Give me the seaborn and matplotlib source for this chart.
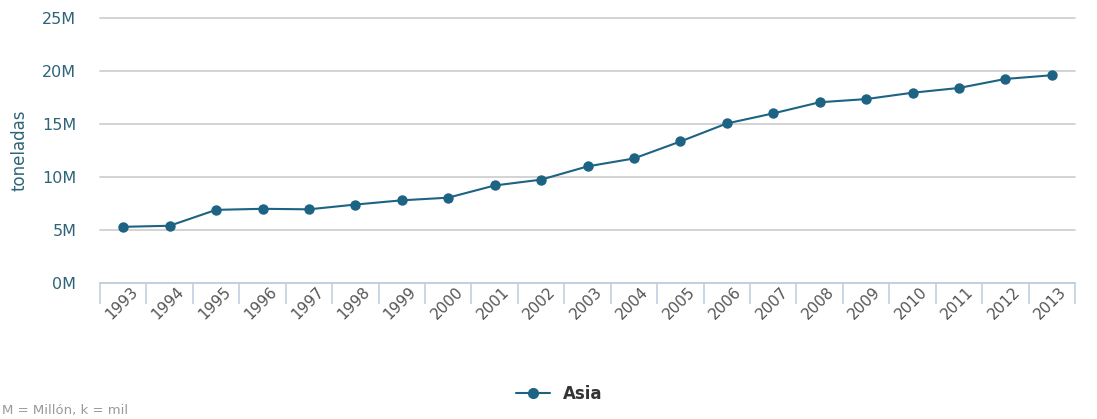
import matplotlib
matplotlib.use("Agg")
import matplotlib.pyplot as plt
import matplotlib.transforms as mtransforms
import seaborn as sns
import pandas as pd
import numpy as np
from matplotlib.ticker import FuncFormatter, FixedLocator
from matplotlib.lines import Line2D

years = list(range(1993, 2014))
asia = [5.3, 5.4, 6.9, 7.0, 6.95, 7.4, 7.8, 8.05, 9.2, 9.75, 11.0, 11.75,
        13.35, 15.05, 16.0, 17.05, 17.35, 17.95, 18.4, 19.25, 19.6]  # millions of tonnes
series_name = "Asia"
y_ticks = [0, 5, 10, 15, 20, 25]

sns.set_theme(style="white")
plt.rcParams['font.family'] = ['DejaVu Sans']

LINE = "#1d6384"
TXT = "#2f6478"

df = pd.DataFrame({"year": years, "value": asia, "serie": series_name})

fig = plt.figure(figsize=(10.97, 4.19), dpi=100)
ax = fig.add_axes([100/1097, 1-283/419, 975/1097, 265/419])

sns.lineplot(data=df, x="year", y="value", hue="serie", palette=[LINE], marker="o",
             markersize=7.5, markeredgewidth=0, linewidth=1.5, ax=ax, legend=False)

ax.set_xlim(years[0]-0.5, years[-1]+0.5)
ax.set_ylim(0, 25)
ax.yaxis.set_major_locator(FixedLocator(y_ticks))
ax.yaxis.set_major_formatter(FuncFormatter(lambda v, p: f"{int(v)}M"))
ax.grid(axis="y", color="#cccccc", linewidth=1.2)
ax.grid(axis="x", visible=False)
for gl in ax.get_ygridlines():
    gl.set_clip_on(False)
for s in ["top", "right", "left"]:
    ax.spines[s].set_visible(False)
ax.spines["bottom"].set_color("#c0d0e0")
ax.spines["bottom"].set_linewidth(1.2)
ax.spines["bottom"].set_zorder(3)
ax.tick_params(axis="y", length=0, labelsize=11.5, labelcolor=TXT, pad=17)

ax.set_xticks(years)
ax.set_xticklabels([str(y) for y in years], rotation=45, ha="right", rotation_mode="anchor")
ax.tick_params(axis="x", which="major", length=0, labelsize=11, labelcolor="#555555", pad=1)
offset = mtransforms.ScaledTranslation(7/100, 0, fig.dpi_scale_trans)
for lbl in ax.get_xticklabels():
    lbl.set_transform(lbl.get_transform() + offset)
ax.set_xticks([y - 0.5 for y in years] + [years[-1] + 0.5], minor=True)
ax.tick_params(axis="x", which="minor", length=15, color="#c0d0e0", width=1.2, bottom=True)

ax.set_xlabel("")
ax.set_ylabel("toneladas", color=TXT, fontsize=12, labelpad=10)

h = Line2D([0], [0], color=LINE, marker="o", markersize=7, linewidth=1.5)
fig.legend([h], [series_name], loc="center", bbox_to_anchor=(0.51, 1-394/419), frameon=False,
           handlelength=2, prop={"weight": "semibold", "size": 12})
for t in fig.legends[0].get_texts():
    t.set_color("#333333")

fig.text(2/1097, 1-410/419, "M = Millón, k = mil", fontsize=9.5, color="#999999", va="center")

fig.savefig("out.png", dpi=100)
